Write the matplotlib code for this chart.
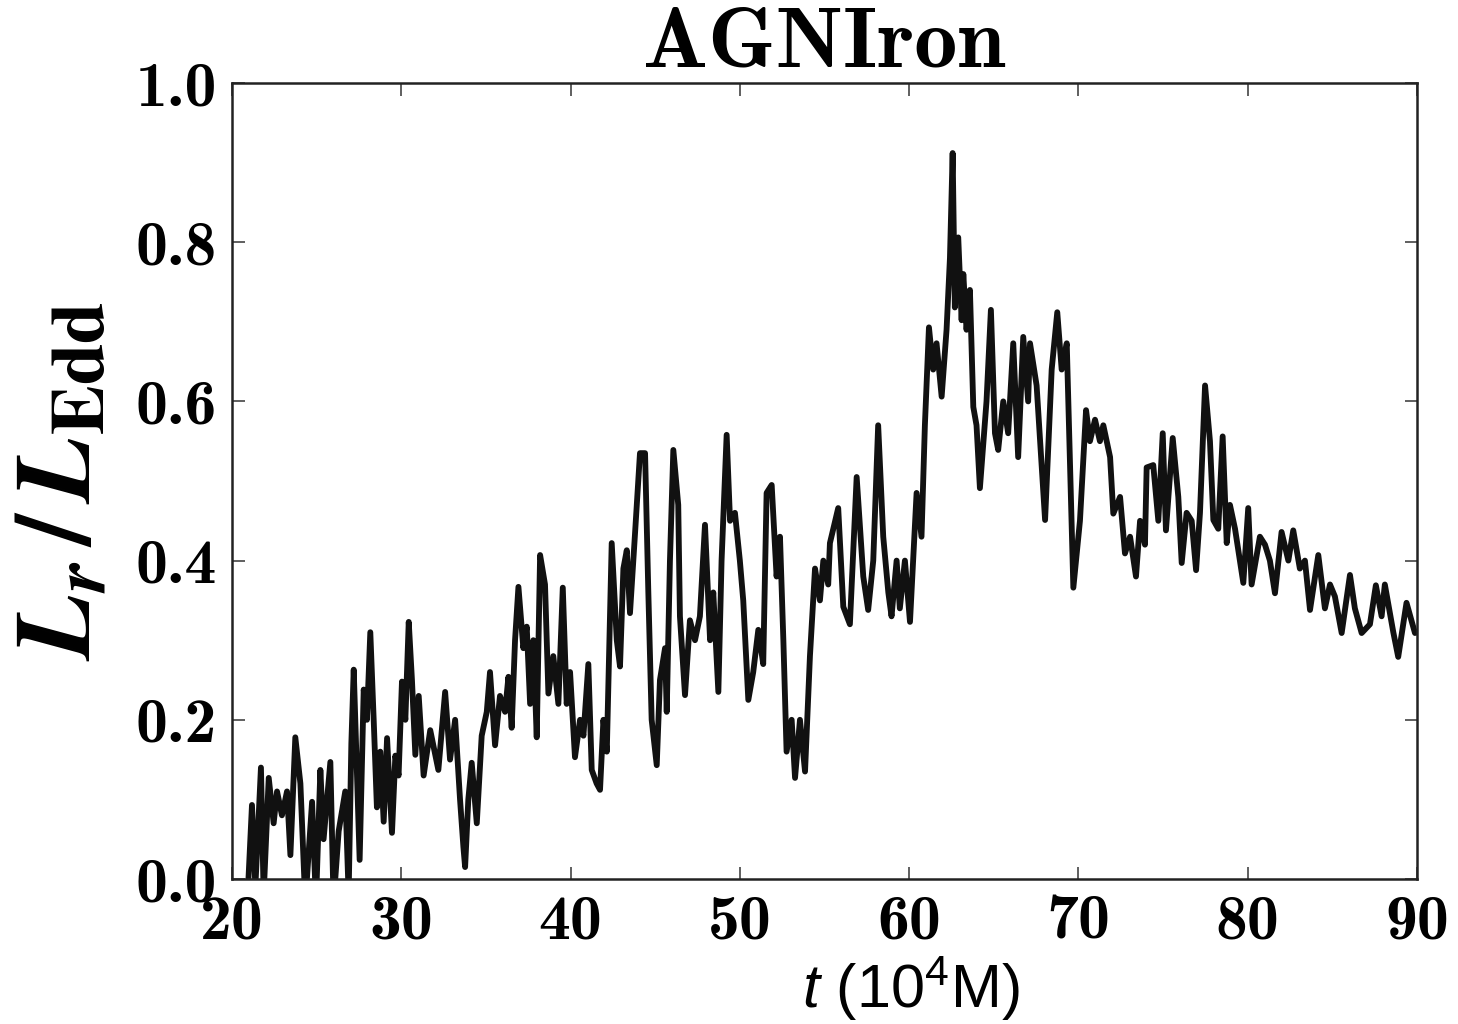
import os
import matplotlib
matplotlib.use("Agg")
from matplotlib import pyplot as plt
from matplotlib import font_manager

# time in units of 10^4 M
t = [20.95, 21.18, 21.38, 21.71, 21.87, 22.17, 22.46, 22.66, 22.95, 23.25,
     23.45, 23.74, 24.04, 24.33, 24.73, 24.96, 25.22, 25.41, 25.81, 26.0,
     26.3, 26.69, 26.89, 27.05, 27.19, 27.54, 27.78, 27.97, 28.17, 28.37,
     28.56, 28.76, 28.96, 29.16, 29.45, 29.65, 29.84, 30.04, 30.24, 30.44,
     30.63, 30.83, 31.03, 31.32, 31.71, 32.19, 32.59, 32.88, 33.18, 33.47,
     33.67, 33.77, 33.96, 34.16, 34.46, 34.75, 35.05, 35.24, 35.54, 35.83,
     36.13, 36.33, 36.52, 36.72, 36.92, 37.21, 37.41, 37.61, 37.8, 38.0,
     38.2, 38.49, 38.69, 38.98, 39.28, 39.54, 39.77, 39.97, 40.26, 40.56,
     40.76, 41.05, 41.25, 41.54, 41.74, 41.94, 42.14, 42.43, 42.73, 42.92,
     43.12, 43.32, 43.51, 43.81, 44.10, 44.40, 44.59, 44.79, 45.09, 45.28,
     45.58, 45.68, 45.87, 46.07, 46.36, 46.46, 46.76, 47.05, 47.35, 47.64,
     47.94, 48.24, 48.43, 48.73, 48.92, 49.22, 49.42, 49.71, 50.0, 50.2,
     50.5, 50.79, 51.09, 51.38, 51.58, 51.88, 52.17, 52.37, 52.57, 52.76,
     53.06, 53.26, 53.55, 53.85, 54.14, 54.44, 54.73, 54.93, 55.22, 55.32,
     55.81, 56.11, 56.5, 56.9, 57.29, 57.58, 57.88, 58.17, 58.47, 58.77,
     58.96, 59.26, 59.45, 59.75, 60.05, 60.44, 60.73, 60.93, 61.17, 61.42,
     61.62, 61.92, 62.21, 62.41, 62.57, 62.7, 62.9, 63.1, 63.2, 63.39,
     63.59, 63.79, 63.98, 64.18, 64.57, 64.83, 65.07, 65.26, 65.56, 65.85,
     66.15, 66.44, 66.74, 67.03, 67.14, 67.53, 68.03, 68.42, 68.75, 69.01,
     69.31, 69.70, 70.09, 70.45, 70.68, 70.98, 71.27, 71.47, 71.87, 72.06,
     72.46, 72.75, 73.05, 73.4, 73.64, 73.93, 74.03, 74.42, 74.72, 74.98,
     75.17, 75.57, 75.9, 76.1, 76.39, 76.69, 76.95, 77.18, 77.48, 77.77,
     77.97, 78.26, 78.52, 78.76, 78.95, 79.25, 79.74, 80.03, 80.23, 80.72,
     81.02, 81.31, 81.61, 82.0, 82.4, 82.69, 83.08, 83.38, 83.68, 84.17,
     84.56, 84.86, 85.15, 85.55, 86.04, 86.33, 86.73, 87.22, 87.57, 87.91,
     88.1, 88.6, 88.89, 89.38, 89.88, 90.0]

# L_r / L_Edd
lum = [-0.01, 0.093, -0.01, 0.14, -0.02, 0.127, 0.07, 0.11, 0.08, 0.11,
       0.03, 0.178, 0.12, -0.03, 0.097, -0.03, 0.137, 0.05, 0.147, -0.03,
       0.06, 0.11, -0.02, 0.17, 0.263, 0.024, 0.238, 0.2, 0.31, 0.2,
       0.09, 0.16, 0.072, 0.177, 0.058, 0.155, 0.13, 0.248, 0.2, 0.323,
       0.25, 0.156, 0.23, 0.13, 0.187, 0.137, 0.235, 0.15, 0.2, 0.1,
       0.04, 0.015, 0.1, 0.146, 0.07, 0.18, 0.21, 0.26, 0.168, 0.23,
       0.21, 0.254, 0.19, 0.3, 0.367, 0.29, 0.317, 0.22, 0.3, 0.178,
       0.407, 0.37, 0.233, 0.28, 0.22, 0.366, 0.22, 0.26, 0.153, 0.2,
       0.18, 0.27, 0.137, 0.12, 0.112, 0.2, 0.16, 0.422, 0.3, 0.267,
       0.39, 0.413, 0.334, 0.435, 0.535, 0.535, 0.363, 0.2, 0.143, 0.25,
       0.29, 0.21, 0.4, 0.539, 0.47, 0.33, 0.231, 0.325, 0.3, 0.33,
       0.445, 0.3, 0.36, 0.235, 0.4, 0.558, 0.45, 0.46, 0.4, 0.35,
       0.225, 0.26, 0.313, 0.27, 0.485, 0.495, 0.38, 0.43, 0.3, 0.16,
       0.2, 0.127, 0.2, 0.135, 0.28, 0.39, 0.35, 0.4, 0.37, 0.422,
       0.466, 0.342, 0.32, 0.505, 0.38, 0.338, 0.4, 0.57, 0.43, 0.36,
       0.33, 0.4, 0.34, 0.4, 0.323, 0.485, 0.43, 0.57, 0.693, 0.64,
       0.673, 0.606, 0.69, 0.78, 0.912, 0.718, 0.806, 0.702, 0.76, 0.69,
       0.74, 0.593, 0.57, 0.491, 0.6, 0.715, 0.56, 0.539, 0.6, 0.56,
       0.673, 0.53, 0.681, 0.6, 0.673, 0.62, 0.451, 0.64, 0.712, 0.64,
       0.673, 0.366, 0.45, 0.589, 0.55, 0.577, 0.55, 0.57, 0.53, 0.459,
       0.48, 0.409, 0.43, 0.38, 0.45, 0.42, 0.517, 0.52, 0.45, 0.56,
       0.438, 0.554, 0.48, 0.397, 0.46, 0.45, 0.388, 0.46, 0.62, 0.55,
       0.451, 0.44, 0.556, 0.422, 0.47, 0.44, 0.372, 0.466, 0.37, 0.43,
       0.42, 0.4, 0.359, 0.436, 0.4, 0.438, 0.39, 0.4, 0.338, 0.407,
       0.34, 0.37, 0.355, 0.309, 0.382, 0.34, 0.309, 0.32, 0.369, 0.33,
       0.37, 0.31, 0.279, 0.347, 0.309, 0.31]

xticks = [20, 30, 40, 50, 60, 70, 80, 90]
yticks = [0.0, 0.2, 0.4, 0.6, 0.8, 1.0]
xtick_labels = ['20', '30', '40', '50', '60', '70', '80', '90']
ytick_labels = ['0.0', '0.2', '0.4', '0.6', '0.8', '1.0']

# computer modern bold ships with matplotlib
cmb = os.path.join(matplotlib.get_data_path(), 'fonts', 'ttf', 'cmb10.ttf')
font_manager.fontManager.addfont(cmb)
CMB = font_manager.FontProperties(fname=cmb).get_name()

plt.rcParams['mathtext.fontset'] = 'cm'
plt.rcParams['mathtext.rm'] = 'Liberation Sans'
plt.rcParams['mathtext.it'] = 'Liberation Sans:italic'

fig = plt.figure(figsize=(14.58, 10.24), dpi=100)
ax = fig.add_axes([232 / 1458, 1 - 879 / 1024, 1185 / 1458, 796 / 1024])

ax.plot(t, lum, color='#111111', linewidth=4.2)

ax.set_xlim(20, 90)
ax.set_ylim(0, 1)
ax.set_xticks(xticks, xtick_labels, fontfamily=CMB, fontsize=46)
ax.set_yticks(yticks, ytick_labels, fontfamily=CMB, fontsize=46)
ax.tick_params(direction='in', length=9, width=1.2, top=True, right=True,
               pad=11, color='#444444')
for s in ax.spines.values():
    s.set_linewidth(1.8)
    s.set_color('#222222')

ax.set_title('AGNIron', fontsize=62, pad=12, fontfamily=CMB)

ax.set_ylabel(r'$\mathbfit{L_r}\,\mathbf{/}\,\mathbfit{L}_{\mathbf{Edd}}$',
              fontsize=77, math_fontfamily='stix')
ax.yaxis.set_label_coords(-0.101, 0.5)

ax.set_xlabel(r'$\mathit{t}$ (10$^{4}$M)', fontsize=44,
              family='Liberation Sans', math_fontfamily='custom')
ax.xaxis.set_label_coords(0.573, -0.094)

fig.savefig('out.png')
plt.close(fig)
